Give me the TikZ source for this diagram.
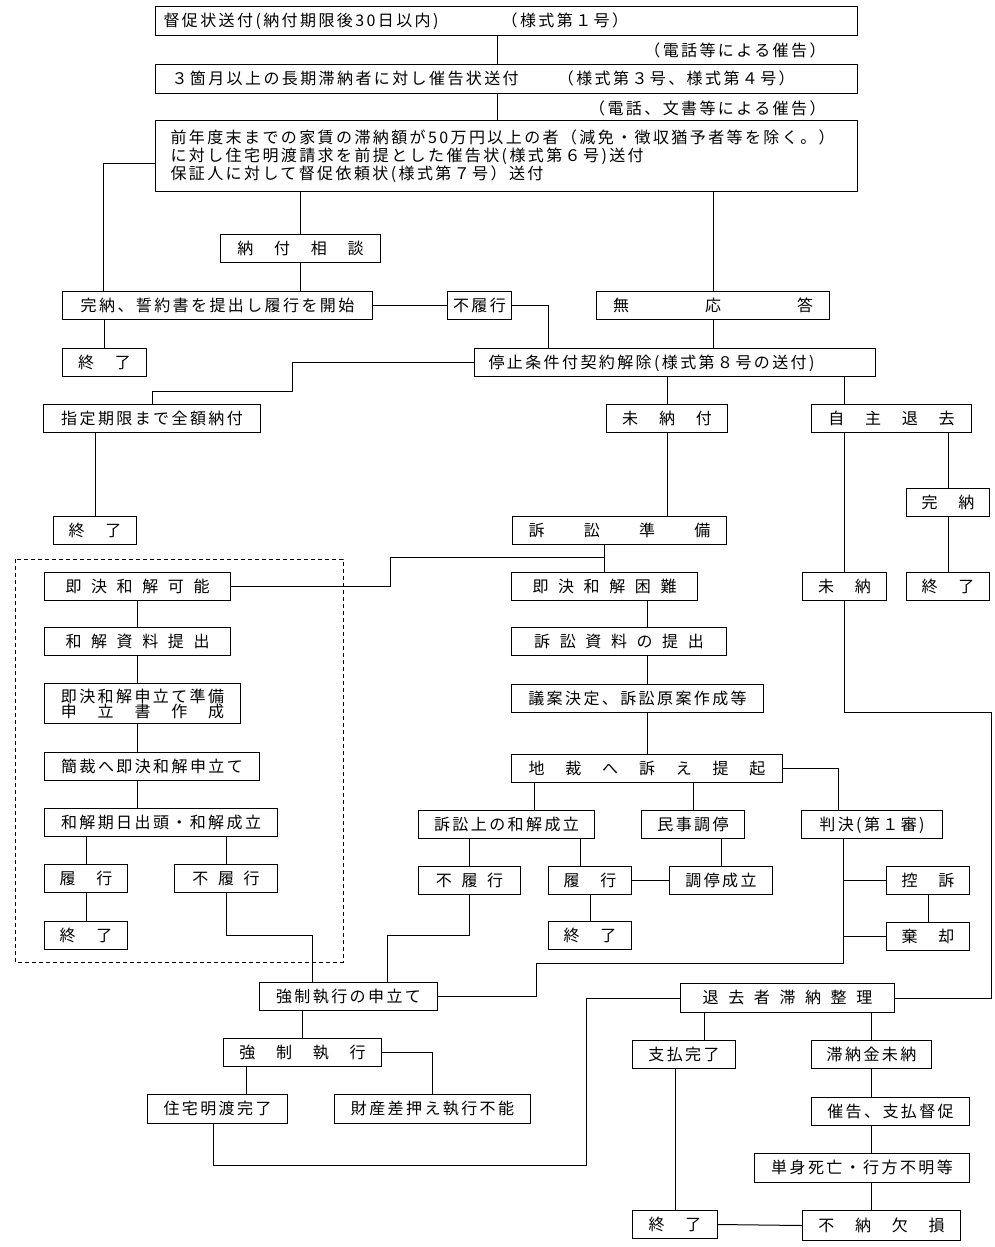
\documentclass[tikz,border=0pt]{standalone}
\usepackage{fontspec}
\newfontfamily\jp{Noto Sans CJK JP}[LetterSpace=15]
\newcommand\hgap{\hspace{.6em}}
\tikzset{
  base/.style={draw, line width=1pt, font=\jp\fontsize{16}{18}\selectfont,
    inner sep=0pt, anchor=north west, minimum height=28pt},
  box/.style={base, text height=13.5pt, text depth=2.5pt},
  lbl/.style={font=\jp\fontsize{16}{18}\selectfont, inner sep=0pt, anchor=east},
}
\begin{document}
\begin{tikzpicture}[x=1pt, y=-1pt, line width=1pt]
\useasboundingbox (0,0) rectangle (995,1247);
% top part
\node[box, text width=686pt, inner xsep=8pt, align=left, minimum height=29pt] (tokusoku) at (155,6) {督促状送付(納付期限後30日以内)　　　\hspace{.5em}（様式第１号）};
\node[lbl] (tel1) at (826,50) {（電話等による催告）};
\node[box, text width=670pt, inner xsep=16pt, align=left, minimum height=29pt] (saikoku) at (155,64) {３箇月以上の長期滞納者に対し催告状送付　　（様式第３号、様式第４号）};
\node[lbl] (tel2) at (826,108) {（電話、文書等による催告）};
\node[base, text width=672pt, inner xsep=15pt, align=left, minimum height=71pt] (seikyu) at (155,120) {前年度末までの家賃の滞納額が50万円以上の者（減免・徴収猶予者等を除く。）\\に対し住宅明渡請求を前提とした催告状(様式第６号)送付\\保証人に対して督促依頼状(様式第７号）送付};
\node[box, minimum width=160pt] (soudan) at (220,234) {納　付　相　談};
\node[box, minimum width=310pt] (kannou) at (62,291) {完納、誓約書を提出し履行を開始};
\node[box, minimum width=64pt] (furikou) at (447,291) {不履行};
\node[box, minimum width=233pt] (muoutou) at (596,291) {無　　　　応　　　　答};
\node[box, minimum width=84pt] (end1) at (62,348) {終　了};
\node[box, text width=373pt, inner xsep=14pt, align=left] (teishi) at (474,348) {停止条件付契約解除(様式第８号の送付)};
\node[box, minimum width=217pt] (shitei) at (43,404) {指定期限まで全額納付};
\node[box, minimum width=121pt] (minoufu) at (606,404) {未　納　付};
\node[box, minimum width=160pt] (jishu) at (811,404) {自　主　退　去};
\node[box, minimum width=83pt] (kannou2) at (906,488) {完　納};
\node[box, minimum width=83pt] (end2) at (53,516) {終　了};
\node[box, minimum width=214pt] (junbi) at (512,516) {訴　　訟　　準　　備};
\node[box, minimum width=84pt] (minou) at (802,572) {未　納};
\node[box, minimum width=83pt] (end3) at (906,572) {終　了};
% dashed part
\draw[line width=1pt, dash pattern=on 4pt off 3pt] (15,559) rectangle (343,962);
\node[box, minimum width=186pt] (kanou) at (44,572) {即\hgap 決\hgap 和\hgap 解\hgap 可\hgap 能};
\node[box, minimum width=186pt] (wshiryo) at (44,627) {和\hgap 解\hgap 資\hgap 料\hgap 提\hgap 出};
\node[base, minimum width=196pt, minimum height=40pt, align=center, font=\jp\fontsize{16}{15}\selectfont] (mjunbi) at (44,683) {即決和解申立て準備\\申　立　書　作　成};
\node[box, minimum width=215pt] (kansai) at (44,752) {簡裁へ即決和解申立て};
\node[box, minimum width=233pt] (kijitsu) at (44,808) {和解期日出頭・和解成立};
\node[box, minimum width=83pt] (rikou) at (44,864) {履　行};
\node[box, minimum width=103pt] (furikou2) at (174,864) {不\hgap 履\hgap 行};
\node[box, minimum width=83pt] (end4) at (44,921) {終　了};
% lawsuit
\node[box, minimum width=186pt] (konnan) at (511,572) {即\hgap 決\hgap 和\hgap 解\hgap 困\hgap 難};
\node[box, minimum width=215pt] (shiryo) at (511,627) {訴\hgap 訟\hgap 資\hgap 料\hgap の\hgap 提\hgap 出};
\node[box, minimum width=252pt] (gian) at (511,684) {議案決定、訴訟原案作成等};
\node[box, minimum width=271pt] (chisai) at (511,754) {地　裁　へ　訴　え　提　起};
\node[box, minimum width=176pt] (wakai) at (418,810) {訴訟上の和解成立};
\node[box, minimum width=103pt] (minji) at (641,810) {民事調停};
\node[box, minimum width=141pt] (hanketsu) at (801,810) {判決(第１審)};
\node[box, minimum width=102pt] (furikou3) at (418,866) {不\hgap 履\hgap 行};
\node[box, minimum width=83pt] (rikou3) at (548,866) {履　行};
\node[box, minimum width=103pt] (choutei) at (669,866) {調停成立};
\node[box, minimum width=83pt] (kouso) at (886,866) {控　訴};
\node[box, minimum width=83pt] (end5) at (548,921) {終　了};
\node[box, minimum width=83pt] (kikyaku) at (886,922) {棄　却};
% execution / arrears
\node[box, minimum width=178pt] (moushi) at (259,982) {強制執行の申立て};
\node[box, minimum width=214pt, minimum height=29pt] (taikyo) at (680,983) {退\hgap 去\hgap 者\hgap 滞\hgap 納\hgap 整\hgap 理};
\node[box, minimum width=158pt] (kyousei) at (223,1038) {強　制　執　行};
\node[box, minimum width=103pt] (shiharai) at (632,1040) {支払完了};
\node[box, minimum width=120pt] (tainoukin) at (811,1040) {滞納金未納};
\node[box, minimum width=140pt, minimum height=29pt] (kanryo) at (147,1094) {住宅明渡完了};
\node[box, minimum width=196pt, minimum height=29pt] (zaisan) at (334,1094) {財産差押え執行不能};
\node[box, minimum width=158pt] (saisoku) at (811,1097) {催告、支払督促};
\node[box, minimum width=215pt, minimum height=29pt] (tanshin) at (754,1153) {単身死亡・行方不明等};
\node[box, minimum width=85pt] (end6) at (632,1210) {終　了};
\node[box, minimum width=158pt, minimum height=30pt] (funou) at (802,1210) {不　納　欠　損};
% connectors
\draw (497,0 |- tokusoku.south) -- (497,0 |- saikoku.north);
\draw (497,0 |- saikoku.south) -- (497,0 |- seikyu.north);
\draw (seikyu.west |- 0,163) -| (103,0 |- kannou.north);
\draw (soudan.north |- seikyu.south) -- (soudan.north);
\draw (soudan.south) -- (soudan.south |- kannou.north);
\draw (muoutou.north |- seikyu.south) -- (muoutou.north);
\draw (muoutou.south) -- (muoutou.south |- teishi.north);
\draw (kannou.east) -- (furikou.west);
\draw (furikou.east) -| (548,0 |- teishi.north);
\draw (end1.north |- kannou.south) -- (end1.north);
\draw (teishi.west) -| (292,391) -| (shitei.north);
\draw (end2.north |- shitei.south) -- (end2.north);
\draw (minoufu.north |- teishi.south) -- (minoufu.north);
\draw (minou.north |- teishi.south) -- (minou.north |- jishu.north);
\draw (minou.north |- jishu.south) -- (minou.north);
\draw (kannou2.north |- jishu.south) -- (kannou2.north);
\draw (kannou2.south) -- (end3.north);
\draw (minoufu.south) -- (minoufu.south |- junbi.north);
\draw (konnan.north |- junbi.south) -- (konnan.north);
\draw (kanou.east) -| (390,557) -- (konnan.north |- 0,557);
\draw (chisai.north |- konnan.south) -- (chisai.north |- shiryo.north);
\draw (chisai.north |- shiryo.south) -- (chisai.north |- gian.north);
\draw (chisai.north |- gian.south) -- (chisai.north);
\draw (kanou.south) -- (kanou.south |- wshiryo.north);
\draw (kanou.south |- wshiryo.south) -- (kanou.south |- mjunbi.north);
\draw (kanou.south |- mjunbi.south) -- (kanou.south |- kansai.north);
\draw (kanou.south |- kansai.south) -- (kanou.south |- kijitsu.north);
\draw (rikou.north |- kijitsu.south) -- (rikou.north);
\draw (furikou2.north |- kijitsu.south) -- (furikou2.north);
\draw (rikou.south) -- (end4.north);
\draw (furikou2.south) |- (312,935) -- (312,0 |- moushi.north);
\draw (534,0 |- chisai.south) -- (534,0 |- wakai.north);
\draw (minji.north |- chisai.south) -- (minji.north);
\draw (chisai.east) -| (838,0 |- hanketsu.north);
\draw (furikou3.north |- wakai.south) -- (furikou3.north);
\draw (580,0 |- wakai.south) -- (580,0 |- rikou3.north);
\draw (choutei.north |- minji.south) -- (choutei.north);
\draw (rikou3.east) -- (choutei.west);
\draw (rikou3.south) -- (end5.north);
\draw (furikou3.south) |- (387,935) -- (387,0 |- moushi.north);
\draw (843,0 |- hanketsu.south) |- (536,963) |- (moushi.east);
\draw (843,0 |- kouso.west) -- (kouso.west);
\draw (843,0 |- kikyaku.west) -- (kikyaku.west);
\draw (kouso.south) -- (kikyaku.north);
\draw (minou.south) |- (991,712) |- (taikyo.east);
\draw (taikyo.west) -| (586,1165) -| (213,0 |- kanryo.south);
\draw (kyousei.north |- moushi.south) -- (kyousei.north);
\draw (246,0 |- kyousei.south) -- (246,0 |- kanryo.north);
\draw (kyousei.east) -| (zaisan.north);
\draw (704,0 |- taikyo.south) -- (704,0 |- shiharai.north);
\draw (tainoukin.north |- taikyo.south) -- (tainoukin.north);
\draw (end6.north |- shiharai.south) -- (end6.north);
\draw (tainoukin.south) -- (tainoukin.south |- saisoku.north);
\draw (tainoukin.south |- saisoku.south) -- (tainoukin.south |- tanshin.north);
\draw (tainoukin.south |- tanshin.south) -- (tainoukin.south |- funou.north);
\draw (end6.east) -- (funou.west);
\end{tikzpicture}
\end{document}
